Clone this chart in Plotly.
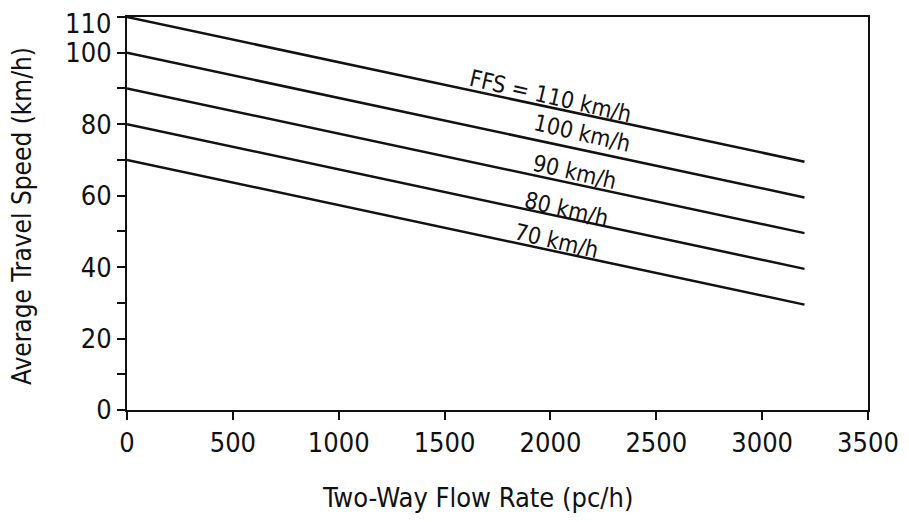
import plotly.graph_objects as go

ffs_labels = ["FFS = 110 km/h", "100 km/h", "90 km/h", "80 km/h", "70 km/h"]
flow_x = [0, 3200]
speed_start = [110, 100, 90, 80, 70]
speed_end = [69.5, 59.5, 49.5, 39.5, 29.5]
label_x = [1998, 2149, 2116, 2074, 2031]
label_y = [87.9, 77.5, 66.5, 56.3, 47.3]

y_ticks = list(range(0, 111, 10))
y_ticktext = ["0", "", "20", "", "40", "", "60", "", "80", "", "100", ""]
y_top_label = "110"
x_ticks = list(range(0, 3501, 500))

font_fam = "DejaVu Sans Condensed, sans-serif"

fig = go.Figure()
for s0, s1 in zip(speed_start, speed_end):
    fig.add_trace(go.Scatter(x=flow_x, y=[s0, s1], mode="lines",
                             line=dict(color="#111", width=2.5), showlegend=False))

for t, lx, ly in zip(ffs_labels, label_x, label_y):
    fig.add_annotation(x=lx, y=ly, text=t, showarrow=False, textangle=13,
                       font=dict(family=font_fam, size=23, color="#111"))

# top tick label, nudged down so it stays inside the page like the reference
fig.add_annotation(xref="paper", yref="y", x=0, y=y_ticks[-1], xanchor="right",
                   yanchor="middle", xshift=-14, yshift=-6, text=y_top_label,
                   showarrow=False, font=dict(family=font_fam, size=27, color="#111"))

fig.add_annotation(xref="paper", yref="paper", x=(477 - 127) / 741, y=-(497 - 410) / 393,
                   xanchor="center", yanchor="middle", text="Two-Way Flow Rate (pc/h)",
                   showarrow=False, font=dict(family=font_fam, size=27, color="#111"))
fig.add_annotation(xref="paper", yref="paper", x=(22 - 127) / 741, y=(410 - 216) / 393,
                   xanchor="center", yanchor="middle", textangle=-90,
                   text="Average Travel Speed (km/h)", showarrow=False,
                   font=dict(family=font_fam, size=26, color="#111"))

fig.update_layout(
    width=909, height=522,
    margin=dict(l=119, r=49, t=9, b=120, autoexpand=False),
    paper_bgcolor="white", plot_bgcolor="white",
    font=dict(family=font_fam, color="#111"),
)
fig.update_xaxes(range=[0, 3500], tickvals=x_ticks, ticks="outside", ticklen=8,
                 tickwidth=2, tickcolor="#111", showline=True, linecolor="#111",
                 linewidth=2, mirror=True, showgrid=False, zeroline=False,
                 automargin=False, ticklabeloverflow="allow", tickfont=dict(size=27))
fig.update_yaxes(range=[0, 110], tickvals=y_ticks, ticktext=y_ticktext, ticks="outside",
                 ticklen=8, tickwidth=2, tickcolor="#111", showline=True, linecolor="#111",
                 linewidth=2, mirror=True, showgrid=False, zeroline=False,
                 automargin=False, ticklabeloverflow="allow", tickfont=dict(size=27))

fig.write_html("out.html")
